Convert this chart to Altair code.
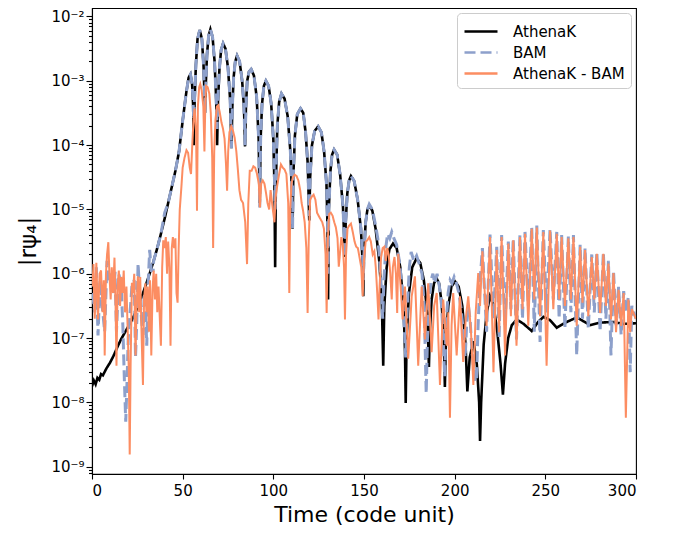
import altair as alt
import pandas as pd

# ---------------- data (time, log10|r psi4|) ----------------
athenak_t = [0, 1, 2, 3, 4, 5, 6, 8, 10, 12, 14, 16, 18, 20, 22, 24, 26, 28, 30, 32, 34, 36, 38, 40, 42, 44, 46, 48, 50, 52, 53.3, 54.3,
             55.2, 55.8, 56.1, 56.6, 57.3, 58.2, 59.4, 60.6, 61.5, 62.0, 62.3, 62.7, 63.4, 64.3, 65.3, 66.5, 67.6, 68.5, 69.0,
             69.5, 70.3, 71.2, 72.3, 73.6, 75.0, 76.2, 76.9, 77.4, 78.1, 79.0, 80.0, 81.4, 82.8, 83.8, 84.4,
             84.9, 85.6, 86.6, 87.8, 89.3, 90.8, 91.9, 92.5, 93.0, 93.8, 94.8, 95.9, 97.4, 98.8, 100.0, 100.6, 101.0,
             101.4, 102.2, 103.2, 104.5, 106.2, 107.9, 109.4, 110.2, 110.6, 111.0, 111.9, 113.2, 115.0, 116.5, 117.8, 119.0, 119.8,
             120.3, 121.3, 122.8, 124.7, 126.5, 128.0, 129.3, 129.9, 130.2, 130.6, 131.5, 132.4, 133.5, 135.2, 136.8, 138.4, 139.5,
             139.9, 140.8, 141.8, 142.8, 144.6, 146.5, 148.3, 149.2, 149.6, 150.0, 150.9, 151.9, 152.9, 154.6, 156.4, 158.4, 159.8, 160.6,
             161.2, 162.5, 164.0, 166.0, 168.0, 170.0, 171.8, 172.6, 173.0, 173.5, 174.8, 176.6, 179.0, 181.0, 183.0, 184.9, 185.8,
             186.3, 187.3, 188.6, 190.0, 191.4, 192.8, 194.0, 194.6, 195.2, 196.5, 198.2, 200.2, 202.2, 204.2, 206.0, 207.0,
             208.3, 210.4, 212.2, 213.5, 214.0, 214.6, 216.0, 217.7, 219.5, 221.5, 223.5, 225.3, 226.6, 227.8, 229.5, 231.5,
             234.2, 238.0, 242.5, 246.0, 249.0, 252.5, 256.3, 261.0, 267.3, 271.0, 274.7, 280.0, 287.6, 293.0, 300.0]
athenak_log10 = [-7.75, -7.66, -7.72, -7.62, -7.65, -7.56, -7.58, -7.47, -7.38, -7.27, -7.14, -7.02, -6.92, -6.82, -6.72, -6.60, -6.46, -6.31, -6.15, -5.98, -5.80, -5.60, -5.38, -5.15, -4.90, -4.65, -4.40, -4.10, -3.62, -3.18, -2.95, -2.90,
                 -3.05, -3.40, -4.00, -3.30, -2.75, -2.35, -2.21, -2.35, -2.75, -3.20, -3.50, -3.10, -2.60, -2.30, -2.20, -2.32, -2.70, -3.30, -4.00,
                 -3.30, -2.80, -2.52, -2.42, -2.50, -2.80, -3.30, -4.05, -3.40, -2.95, -2.70, -2.61, -2.70, -3.00, -3.40, -4.02,
                 -3.40, -3.00, -2.86, -2.82, -2.92, -3.25, -3.90, -4.90, -3.90, -3.35, -3.08, -3.00, -3.08, -3.35, -3.90, -4.60, -5.90,
                 -4.60, -3.70, -3.33, -3.20, -3.28, -3.55, -4.10, -4.70, -5.30, -4.50, -3.85, -3.52, -3.43, -3.50, -3.80, -4.30, -5.17,
                 -4.50, -4.00, -3.78, -3.71, -3.80, -4.10, -4.60, -5.30, -6.40, -5.00, -4.40, -4.15, -4.07, -4.15, -4.45, -4.95, -5.74,
                 -5.20, -4.75, -4.55, -4.48, -4.56, -4.85, -5.30, -5.80, -6.35, -5.70, -5.20, -5.00, -4.94, -5.02, -5.30, -5.80, -6.40, -7.43,
                 -6.50, -5.90, -5.62, -5.53, -5.60, -5.90, -6.50, -7.20, -8.01, -7.00, -6.30, -5.90, -5.76, -5.83, -6.10, -6.60, -7.45,
                 -6.90, -6.40, -6.15, -6.07, -6.15, -6.45, -7.00, -7.76, -7.00, -6.50, -6.20, -6.12, -6.20, -6.50, -7.10, -7.83,
                 -7.30, -7.05, -7.40, -8.00, -8.60, -8.00, -7.10, -6.60, -6.35, -6.50, -6.90, -7.40, -7.88, -7.40, -7.00, -6.80,
                 -6.71, -6.78, -6.89, -6.75, -6.67, -6.72, -6.84, -6.76, -6.68, -6.74, -6.80, -6.76, -6.75, -6.78, -6.77]

bam_t = [0.3, 1.5, 2.4, 3.3, 4.5, 5.8, 7.0, 8.3, 9.6, 10.9, 12.0, 12.7, 13.5, 14.8, 16.1, 17.0, 17.8, 18.6, 19.3, 20.0, 21.0, 22.0, 23.3, 24.0, 24.7, 25.4, 26.3, 27.3, 28.1, 28.8, 29.6, 30.2, 30.9, 31.8, 32.7, 33.7,
         34.0, 36.0, 38.0, 40.1, 42.0, 44.0, 46.0, 48.0, 50.0, 52.0, 53.3, 54.3, 55.2, 55.8, 56.1, 56.6, 57.3, 58.2, 59.4, 60.6, 61.5, 62.0, 62.3, 62.7, 63.4, 64.3, 65.3, 66.5, 67.6, 68.5, 69.0,
         69.5, 70.3, 71.2, 72.3, 73.6, 75.0, 76.2, 76.9, 77.4, 78.1, 79.0, 80.0, 81.4, 82.8, 83.8, 84.4, 84.9, 85.6, 86.6, 87.8, 89.3, 90.8, 91.9, 92.5,
         93.0, 93.8, 94.8, 95.9, 97.4, 98.8, 100.0, 100.6, 101.0, 101.4, 102.2, 103.2, 104.5, 106.2, 107.9, 109.4, 110.2, 110.6, 111.0, 111.9, 113.2, 115.0, 116.5, 117.8, 119.0, 119.8,
         120.3, 121.3, 122.8, 124.7, 126.5, 128.0, 129.3, 129.9, 130.2, 130.6, 131.5, 132.4, 133.5, 135.2, 136.8, 138.4, 139.5, 139.9, 140.8, 141.8, 142.8, 144.6, 146.5, 148.3, 149.2, 149.6,
         150.0, 150.9, 151.9, 152.9, 154.6, 156.4, 157.6, 158.4, 159.5, 160.3, 161.0, 162.0, 163.0, 164.2, 165.3, 166.5, 168.0, 169.5, 171.0, 172.3, 173.0, 173.8, 175.0, 176.0, 177.5,
         179.0, 180.5, 182.0, 183.2, 184.3, 185.0, 186.0, 187.0, 188.0, 189.0, 190.3, 191.6, 192.8, 193.8, 194.5, 195.3, 196.4, 197.5, 198.5, 199.7, 201.0, 202.3, 203.6, 204.8, 205.8,
         206.6, 207.6, 208.6, 209.5, 211.2, 212.1, 212.8, 213.8,
         215.3, 217.6, 219.5, 221.4, 223.2, 224.5, 225.9, 227.8, 229.6, 231.0, 232.3, 234.1, 236.0, 237.4, 238.8, 240.6, 242.5, 243.9, 245.3, 247.1, 248.9, 250.7, 252.6, 254.4, 256.3, 257.6,
         259.0, 260.8, 262.7, 264.1, 265.5, 267.3, 269.2, 270.5, 271.9, 273.7, 275.6, 277.0, 278.4, 280.2, 282.0, 283.4, 284.8, 286.2, 287.6, 289.0, 290.4, 291.8, 293.2, 294.4, 295.8, 296.8, 297.7, 300.0]
bam_log10 = [-6.3, -6.6, -5.9, -6.96, -6.1, -6.55, -6.9, -5.8, -6.1, -6.0, -6.3, -5.97, -6.9, -6.0, -6.2, -6.8, -7.6, -8.3, -7.7, -7.0, -6.6, -6.2, -6.1, -7.3, -6.75, -5.84, -6.3, -6.7, -6.95, -6.3, -6.6, -7.12, -6.2, -5.63, -5.95, -5.95,
             -5.80, -5.60, -5.38, -5.05, -4.90, -4.65, -4.40, -4.10, -3.62, -3.18, -2.95, -2.90, -3.05, -3.35, -3.60, -3.25, -2.75, -2.35, -2.21, -2.35, -2.75, -3.20, -3.50, -3.10, -2.60, -2.30, -2.20, -2.32, -2.70, -3.30, -3.75,
             -3.25, -2.80, -2.52, -2.42, -2.50, -2.80, -3.30, -4.05, -3.40, -2.95, -2.70, -2.61, -2.70, -3.00, -3.40, -4.00, -3.40, -3.00, -2.86, -2.82, -2.92, -3.25, -3.90, -4.97,
             -3.90, -3.35, -3.08, -3.00, -3.08, -3.35, -3.90, -4.50, -5.00, -4.50, -3.70, -3.33, -3.20, -3.28, -3.55, -4.10, -4.70, -5.30, -4.50, -3.85, -3.52, -3.43, -3.50, -3.80, -4.30, -5.10,
             -4.50, -4.00, -3.78, -3.71, -3.80, -4.10, -4.60, -5.20, -6.00, -5.00, -4.40, -4.15, -4.07, -4.15, -4.45, -4.95, -5.74, -5.20, -4.75, -4.55, -4.48, -4.56, -4.85, -5.30, -5.70, -6.10,
             -5.70, -5.20, -5.00, -4.92, -5.00, -5.25, -5.45, -5.70, -6.20, -6.70, -6.10, -5.60, -5.38, -5.45, -5.35, -5.45, -5.55, -5.80, -6.20, -6.90, -7.30, -6.60, -5.90, -5.66, -5.80,
             -5.72, -5.85, -6.00, -6.50, -7.86, -7.00, -6.40, -6.10, -6.00, -6.15, -6.00, -6.20, -6.50, -7.10, -7.60, -6.80, -6.30, -6.10, -6.15, -6.05, -6.15, -6.30, -6.55, -6.90, -7.30,
             -6.80, -6.50, -6.75, -7.20, -7.68, -7.63, -6.90, -6.20,
             -5.60, -6.90, -5.39, -6.70, -5.58, -7.00, -5.40, -6.80, -5.50, -6.55, -5.45, -7.02, -5.40, -6.70, -5.35, -6.50, -5.27, -6.90, -5.25, -7.06, -5.32, -6.60, -5.30, -6.40, -5.35, -6.70,
             -5.40, -6.85, -5.42, -6.60, -5.40, -7.27, -5.55, -6.70, -5.60, -6.86, -5.70, -6.60, -5.66, -6.90, -5.66, -6.70, -5.80, -7.27, -5.95, -6.80, -6.20, -6.95, -6.27, -6.60, -6.36, -7.53, -6.50, -6.70]

diff_t = [0.3, 0.8, 1.5, 2.4, 3.3, 4.2, 5.0, 5.8, 6.5, 7.0, 7.7, 8.3, 9.0, 9.6, 10.3, 10.9, 11.6, 12.4, 13.0, 13.5, 14.1, 14.8, 15.5, 16.1, 16.8, 17.5, 18.2, 19.0, 19.6, 20.3, 20.8, 21.3, 22.0, 22.6, 23.3, 24.0,
          24.6, 25.3, 26.0, 26.6, 27.3, 28.1, 28.7, 29.4, 30.0, 30.7, 31.4, 32.0, 32.7, 33.4, 34.0, 34.7, 35.4, 36.0, 36.7, 37.4, 38.0, 38.7, 39.3, 40.0, 40.7, 41.4, 42.0, 42.7, 43.3, 44.0,
          44.6, 45.3, 46.0, 46.6, 47.2, 47.8, 48.4, 49.3, 50.0, 51.0, 52.1, 53.0, 53.9, 54.6, 55.3, 56.0, 56.6, 57.4, 57.9, 58.4, 59.1, 59.7, 60.5, 61.4, 62.0, 62.4, 62.9, 63.8, 64.7, 65.5,
          66.3, 66.8, 67.4, 68.1, 68.9, 69.7, 70.5, 71.4, 72.2, 73.1, 73.9, 74.5, 75.1, 75.8, 76.8, 77.8, 78.7, 79.6, 80.5, 81.3, 82.2, 83.3, 84.5, 85.5, 86.2, 87.0, 88.0, 89.0, 90.0, 91.0,
          92.0, 92.6, 93.3, 94.2, 95.1, 96.0, 96.8, 97.7, 98.5, 99.5, 100.6, 101.3, 102.2, 103.2, 104.2, 105.2, 106.2, 107.2, 108.2, 108.8, 109.3, 110.0, 110.8, 111.8, 112.8, 113.8, 114.8,
          115.6, 116.4, 117.3, 118.2, 118.9, 119.5, 120.3, 121.2, 122.2, 123.2, 124.1, 125.0, 126.0, 127.0, 127.9, 128.8, 129.4, 130.0, 130.8, 131.7, 132.7, 133.6, 134.5, 135.4, 136.1,
          136.7, 137.5, 138.3, 139.0, 139.5, 140.1, 140.9, 141.8, 142.8, 143.8, 144.8, 145.7, 146.6, 147.5, 148.5, 149.3, 150.0, 150.9, 151.8, 152.9, 153.8, 154.8, 155.7, 156.5, 157.3,
          158.0, 158.6, 159.4, 160.3, 161.2, 162.0, 162.8, 163.6, 164.5, 165.3, 165.9, 166.8, 167.6, 168.3, 168.9, 170.2, 171.3, 172.6, 174.4, 176.3, 178.1, 179.9, 181.8, 183.6, 185.4,
          187.3, 188.7, 190.1, 191.9, 193.7, 195.6, 196.5, 197.4, 198.3, 199.2, 201.1, 202.9, 204.7, 206.1, 207.5, 209.0, 210.3, 211.6, 213.0, 214.0,
          215.3, 217.6, 219.5, 221.4, 223.2, 224.5, 225.9, 227.8, 229.6, 231.0, 232.3, 234.1, 236.0, 237.4, 238.8, 240.6, 242.5, 243.9, 245.3, 247.1, 248.9, 250.7, 252.6, 254.4, 256.3, 257.6,
          259.0, 260.8, 262.7, 264.1, 265.5, 267.3, 269.2, 270.5, 271.9, 273.7, 275.6, 277.0, 278.4, 280.2, 282.0, 283.4, 284.8, 286.2, 287.6, 289.0, 290.4, 291.8, 293.2, 294.4, 295.8, 296.8, 297.7, 300.0]
diff_log10 = [-6.2, -5.85, -6.7, -5.83, -6.71, -6.0, -5.95, -6.6, -6.1, -7.27, -6.0, -5.7, -5.51, -6.0, -6.4, -5.9, -6.3, -5.75, -6.5, -7.43, -6.2, -5.95, -6.5, -6.05, -6.3, -5.95, -6.6, -6.2, -6.8, -7.5, -8.81, -7.4, -6.14, -6.3, -6.0, -7.27,
              -6.5, -6.04, -6.6, -6.05, -6.9, -7.73, -6.4, -6.15, -6.6, -6.2, -6.9, -6.1, -7.27, -6.25, -5.95, -6.4, -6.0, -6.6, -6.2, -6.7, -7.12, -5.9, -5.48, -5.6, -5.43, -6.0, -5.5, -5.9, -7.12, -5.6,
              -5.43, -5.6, -5.45, -6.3, -6.45, -5.6, -5.0, -4.65, -4.35, -4.2, -4.08, -4.12, -4.35, -4.45, -4.0, -3.6, -3.43, -3.8, -5.02, -3.4, -3.1, -3.05, -3.15, -3.4, -4.1, -3.5, -3.08, -3.1, -3.2, -3.5,
              -4.2, -5.6, -4.1, -3.6, -3.4, -3.38, -3.5, -3.65, -3.74, -3.9, -4.3, -4.71, -4.1, -3.8, -3.71, -3.78, -3.89, -4.1, -4.4, -4.7, -4.85, -4.9, -5.2, -5.85, -4.9, -4.4, -4.4, -4.33, -4.35, -4.45,
              -4.6, -4.97, -4.6, -4.55, -4.6, -4.75, -4.9, -5.0, -4.7, -4.95, -5.2, -4.8, -4.62, -4.45, -4.3, -4.35, -4.38, -4.45, -4.9, -6.3, -5.0, -4.6, -4.5, -4.46, -4.48, -4.55, -4.7,
              -4.9, -5.02, -5.2, -5.6, -6.61, -5.5, -4.85, -4.8, -4.77, -4.85, -5.05, -5.1, -5.15, -5.2, -5.3, -5.7, -6.61, -5.5, -5.07, -5.05, -5.1, -5.2, -5.28, -5.45, -5.89,
              -5.7, -5.43, -5.55, -5.9, -6.71, -5.7, -5.3, -5.25, -5.22, -5.35, -5.5, -5.58, -5.6, -5.74, -5.9, -6.35, -5.8, -5.5, -5.48, -5.43, -5.5, -5.7, -5.65, -5.9, -6.3,
              -6.71, -6.2, -5.75, -5.6, -5.58, -5.8, -5.6, -5.7, -6.0, -6.4, -5.9, -5.74, -6.0, -6.61, -5.69, -6.2, -6.71, -6.2, -7.32, -6.35, -6.04, -7.43, -6.2, -7.02, -6.15,
              -7.22, -6.5, -6.3, -7.73, -6.4, -7.12, -6.6, -8.24, -6.8, -6.3, -7.27, -6.35, -7.37, -6.7, -6.35, -6.9, -7.73, -6.6, -5.99, -6.5,
              -5.65, -6.81, -5.43, -7.53, -5.63, -6.91, -5.43, -7.27, -5.53, -6.66, -5.48, -7.12, -5.43, -6.55, -5.38, -6.81, -5.30, -6.40, -5.28, -6.66, -5.35, -7.43, -5.33, -6.55, -5.38, -6.40,
              -5.43, -6.50, -5.45, -6.40, -5.43, -6.81, -5.58, -6.45, -5.63, -6.66, -5.74, -6.40, -5.69, -6.61, -5.69, -6.50, -5.84, -6.71, -5.99, -6.91, -6.25, -6.81, -6.30, -8.24, -6.40, -6.91, -6.55, -6.70]

series_names = ["AthenaK", "BAM", "AthenaK - BAM"]
series_colors = ["#000000", "#8da0cb", "#fc8d62"]
series_dashes = [[1, 0], [11, 5], [1, 0]]
x_ticks = [0, 50, 100, 150, 200, 250, 300]


def frame(ts, logs, name):
    return pd.DataFrame({"t": ts, "v": [10.0 ** e for e in logs], "series": name})


df_ath = frame(athenak_t, athenak_log10, series_names[0])
df_bam = frame(bam_t, bam_log10, series_names[1])
df_diff = frame(diff_t, diff_log10, series_names[2])

y_lo, y_hi = 10 ** -9.114, 10 ** -1.868
major = [10.0 ** k for k in range(-9, -1)]
minor = [m * 10.0 ** k for k in range(-10, -1) for m in range(2, 10) if y_lo <= m * 10.0 ** k <= y_hi]
y_values = sorted(major + minor)

is_major = "abs(log(datum.value)/LN10 - round(log(datum.value)/LN10)) < 0.001"
label_expr = (is_major + " ? '10\u207b' + ['\u2070','\u00b9','\u00b2','\u00b3','\u2074','\u2075','\u2076','\u2077','\u2078','\u2079']"
              "[-round(log(datum.value)/LN10)] : ''")

x_enc = alt.X("t:Q", scale=alt.Scale(domain=[0, 300], nice=False),
              axis=alt.Axis(values=x_ticks, title="Time (code unit)", labelFontSize=15, titleFontSize=22,
                            tickSize=5, labelPadding=4, titlePadding=6, format="d"))
y_enc = alt.Y("v:Q", scale=alt.Scale(type="log", domain=[y_lo, y_hi], nice=False),
              axis=alt.Axis(values=y_values, labelExpr=label_expr, labelOverlap=False, labelFontSize=15,
                            tickSize={"condition": {"test": is_major, "value": 6}, "value": 3.5},
                            title="|r\u03c8\u2084|", titleFontSize=23, titleX=-64, titleY=233,
                            titleAngle=-90, titleAlign="center", titleBaseline="middle"))
color_enc = alt.Color("series:N", scale=alt.Scale(domain=series_names, range=series_colors), title=None)
dash_enc = alt.StrokeDash("series:N", scale=alt.Scale(domain=series_names, range=series_dashes), title=None)

layers = []
for df, w in [(df_ath, 2.6), (df_bam, 3.0), (df_diff, 2.0)]:
    layers.append(
        alt.Chart(df).mark_line(strokeWidth=w, clip=True).encode(
            x=x_enc, y=y_enc, color=color_enc, strokeDash=dash_enc, order="t:Q")
    )

chart = alt.layer(*layers).properties(
    width=544, height=466,
    autosize=alt.AutoSizeParams(type="none"),
    padding={"left": 84, "top": 0, "right": 26, "bottom": 55},
).configure_view(stroke="black", strokeWidth=1.1).configure_axis(
    grid=False, domainColor="black", tickColor="black", labelColor="black", titleColor="black",
    labelFont="DejaVu Sans", titleFont="DejaVu Sans", titleFontWeight="normal", domainWidth=1.1, tickWidth=1.1,
).configure_legend(
    orient="top-right", offset=5, padding=6, fillColor="white", strokeColor="#cccccc", cornerRadius=4,
    symbolType="M-1,0H2", symbolSize=484, symbolStrokeWidth=2.6, labelFontSize=15, labelFont="DejaVu Sans",
    labelColor="black", labelOffset=25, rowPadding=0,
)

chart.save("out.html", embed_options={"renderer": "svg", "actions": False})
